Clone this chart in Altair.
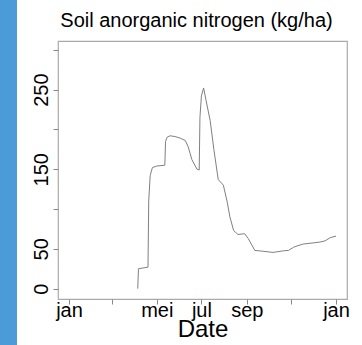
import altair as alt
import pandas as pd

dates = ["2021-04-05", "2021-04-06", "2021-04-19", "2021-04-20", "2021-04-22", "2021-04-25",
         "2021-05-01", "2021-05-12", "2021-05-13", "2021-05-15", "2021-05-19", "2021-05-26",
         "2021-06-02", "2021-06-09", "2021-06-13", "2021-06-18", "2021-06-25", "2021-06-28",
         "2021-06-29", "2021-07-01", "2021-07-04", "2021-07-07", "2021-07-13", "2021-07-18",
         "2021-07-24", "2021-07-31", "2021-08-05", "2021-08-09", "2021-08-14", "2021-08-20",
         "2021-08-29", "2021-09-03", "2021-09-12", "2021-09-23", "2021-10-07", "2021-10-21",
         "2021-10-28", "2021-11-04", "2021-11-10", "2021-11-17", "2021-12-01", "2021-12-10",
         "2021-12-17", "2021-12-24", "2022-01-01"]
nitrogen = [0, 25, 27, 110, 142, 152,
            154, 155, 185, 190, 192, 191,
            189, 186, 178, 162, 150, 149,
            215, 242, 252, 238, 211, 175,
            137, 130, 110, 90, 73, 68,
            69, 63, 48, 47, 45.5, 47.5,
            48, 52, 54, 56, 57.5, 58.5,
            60, 64, 66]

y_ticks = [0, 50, 100, 150, 200, 250, 300]
y_labels = [0, 50, 150, 250]

df = pd.DataFrame({"date": [d + "T00:00:00" for d in dates], "n": nitrogen,
                   "order": list(range(len(dates)))})

x_ticks = [alt.DateTime(year=2021, month=m, date=1) for m in [1, 3, 5, 7, 9, 11]] + \
          [alt.DateTime(year=2022, month=1, date=1)]

label_expr_x = ("month(datum.value)==0 ? 'jan' : month(datum.value)==4 ? 'mei' : "
                "month(datum.value)==6 ? 'jul' : month(datum.value)==8 ? 'sep' : ''")
label_expr_y = "indexof([" + ",".join(str(v) for v in y_labels) + "], datum.value) >= 0 ? datum.label : ''"

line = alt.Chart(df).mark_line(color="#808080", strokeWidth=1, clip=False).encode(
    x=alt.X("date:T",
            scale=alt.Scale(domain=[alt.DateTime(year=2020, month=12, date=17),
                                    alt.DateTime(year=2022, month=1, date=16)]),
            axis=alt.Axis(values=x_ticks, labelExpr=label_expr_x, title="Date",
                          grid=False, domain=False, tickColor="#888888", tickSize=5,
                          labelFont="Liberation Sans", labelFontSize=20, labelColor="black",
                          labelPadding=-4, labelAngle=0, labelAlign="center",
                          labelBaseline="top", labelOverlap=False,
                          titleFont="Liberation Sans", titleFontSize=24,
                          titleFontWeight="normal", titleColor="black",
                          titleBaseline="alphabetic", titleY=37)),
    y=alt.Y("n:Q",
            scale=alt.Scale(domain=[-13, 311], nice=False, zero=False),
            axis=alt.Axis(values=y_ticks, labelExpr=label_expr_y, title=None,
                          grid=False, domain=False, tickColor="#888888", tickSize=5,
                          labelFont="Liberation Sans", labelFontSize=20, labelColor="black",
                          labelAngle=270, labelAlign="center", labelBaseline="alphabetic",
                          labelPadding=6, labelOverlap=False)),
    order="order:Q",
)

bar = alt.Chart(pd.DataFrame({"a": [0]})).mark_rect(color="#4a9bd7", clip=False).encode(
    x=alt.value(-58), x2=alt.value(-41), y=alt.value(-41), y2=alt.value(304)
)

chart = alt.layer(bar, line).properties(
    width=289, height=258,
    padding={"left": 58, "top": 41, "right": 15, "bottom": 46},
    autosize=alt.AutoSizeParams(type="none"),
    title=alt.Title("Soil anorganic nitrogen (kg/ha)", font="Liberation Sans", fontSize=20,
                    fontWeight="normal", color="black", anchor="middle",
                    baseline="alphabetic", offset=0, dy=47, dx=-6),
).configure(
    background="white",
    view=alt.ViewConfig(stroke="#aaaaaa", strokeWidth=1.2),
)

chart.save("out.html", embed_options={"renderer": "svg", "actions": False})
